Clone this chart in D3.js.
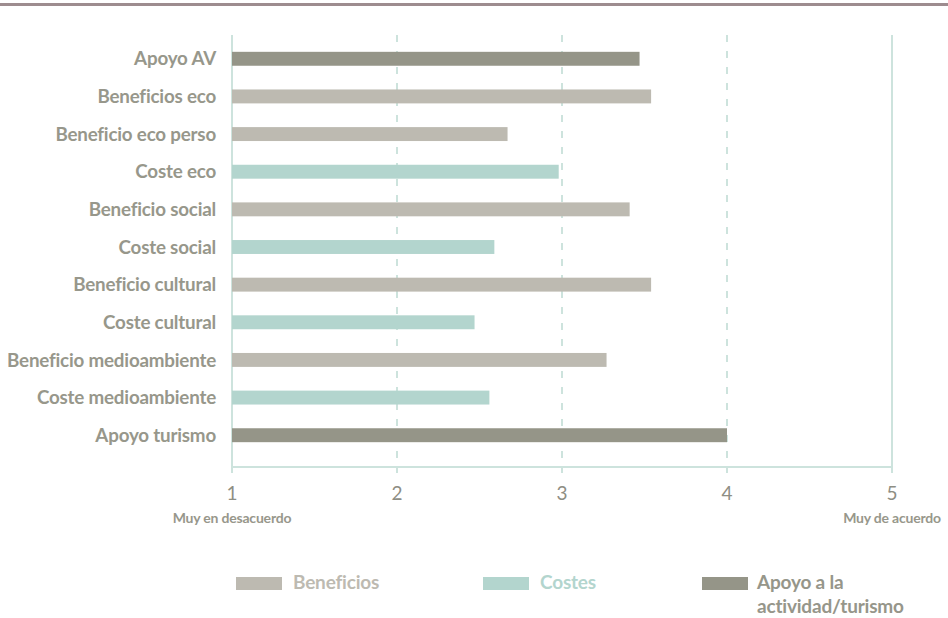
<!DOCTYPE html>
<html>
<head>
<meta charset="utf-8">
<script src="https://cdn.jsdelivr.net/npm/d3@7"></script>
<style>
  body { margin: 0; background: #fff; }
  svg { display: block; font-family: "Lato", "Open Sans", sans-serif; }
</style>
</head>
<body>
<div id="chart"></div>
<script>
// categories top to bottom
const categories = ["Apoyo AV", "Beneficios eco", "Beneficio eco perso", "Coste eco",
  "Beneficio social", "Coste social", "Beneficio cultural", "Coste cultural",
  "Beneficio medioambiente", "Coste medioambiente", "Apoyo turismo"];
const values = [3.47, 3.54, 2.67, 2.98, 3.41, 2.59, 3.54, 2.47, 3.27, 2.56, 4.0];
const groups = ["apoyo", "beneficio", "beneficio", "coste", "beneficio", "coste",
  "beneficio", "coste", "beneficio", "coste", "apoyo"];
const xTicks = [1, 2, 3, 4, 5];
const scaleEnds = ["Muy en desacuerdo", "Muy de acuerdo"];
const legendKeys = ["beneficio", "coste", "apoyo"];
const legendLabels = [["Beneficios"], ["Costes"], ["Apoyo a la", "actividad/turismo"]];

const W = 948, H = 618;
const colors = { beneficio: "#bdbab1", coste: "#b3d5ce", apoyo: "#959588" };
const textColors = { beneficio: "#bdbab1", coste: "#b3d5ce", apoyo: "#96968a" };
const gridColor = "#cde3dd";
const labelColor = "#97978b";

const svg = d3.select("#chart").append("svg")
  .attr("width", W).attr("height", H);

// top rule
svg.append("rect")
  .attr("x", 0).attr("y", 3).attr("width", W).attr("height", 3)
  .attr("fill", "#9d8c8f");

const x = d3.scaleLinear().domain([1, 5]).range([232, 892]);
const y = d3.scaleBand().domain(categories).range([33, 461])
  .paddingInner(0.63).paddingOuter(0.5);

const axisY = 467, gridTop = 35;

// grid lines
svg.append("g").selectAll("line")
  .data(xTicks)
  .join("line")
  .attr("x1", d => x(d)).attr("x2", d => x(d))
  .attr("y1", gridTop).attr("y2", axisY + 6)
  .attr("stroke", gridColor)
  .attr("stroke-width", 2)
  .attr("stroke-dasharray", d => (d === 1 || d === 5) ? null : "7,9");

// bottom axis line
svg.append("line")
  .attr("x1", x(1)).attr("x2", x(5))
  .attr("y1", axisY).attr("y2", axisY)
  .attr("stroke", gridColor).attr("stroke-width", 2);

// bars
svg.append("g").selectAll("rect")
  .data(categories)
  .join("rect")
  .attr("x", x(1))
  .attr("y", d => y(d))
  .attr("width", (d, i) => x(values[i]) - x(1))
  .attr("height", y.bandwidth())
  .attr("fill", (d, i) => colors[groups[i]]);

// category labels
svg.append("g").selectAll("text")
  .data(categories)
  .join("text")
  .attr("x", 216)
  .attr("y", d => y(d) + y.bandwidth() / 2)
  .attr("dy", "0.35em")
  .attr("text-anchor", "end")
  .attr("fill", labelColor)
  .style("font-size", "18.8px")
  .style("font-weight", 700)
  .style("letter-spacing", "-0.2px")
  .text(d => d);

// tick labels
svg.append("g").selectAll("text")
  .data(xTicks)
  .join("text")
  .attr("x", d => x(d))
  .attr("y", 500)
  .attr("text-anchor", "middle")
  .attr("fill", "#8e8e84")
  .style("font-size", "19px")
  .style("font-weight", 400)
  .text(d => d);

svg.append("g").selectAll("text")
  .data(scaleEnds)
  .join("text")
  .attr("x", (d, i) => x(i === 0 ? 1 : 5))
  .attr("y", 523)
  .attr("text-anchor", "middle")
  .attr("fill", labelColor)
  .style("font-size", "14px")
  .style("font-weight", 700)
  .style("letter-spacing", "-0.2px")
  .text(d => d);

// legend
const legendX = [236, 483, 702];
const legendTextX = [57, 57, 55];
const legend = svg.append("g").selectAll("g")
  .data(legendKeys)
  .join("g")
  .attr("transform", (d, i) => `translate(${legendX[i]},577)`);

legend.append("rect")
  .attr("width", 46).attr("height", 13)
  .attr("fill", d => colors[d]);

legend.append("text")
  .attr("y", 12)
  .attr("fill", d => textColors[d])
  .style("font-size", "19px")
  .style("font-weight", 700)
  .style("letter-spacing", "-0.2px")
  .selectAll("tspan")
  .data((d, i) => legendLabels[i].map(t => ({ t, i })))
  .join("tspan")
  .attr("x", d => legendTextX[d.i])
  .attr("dy", (d, j) => j === 0 ? 0 : 24)
  .text(d => d.t);
</script>
</body>
</html>
